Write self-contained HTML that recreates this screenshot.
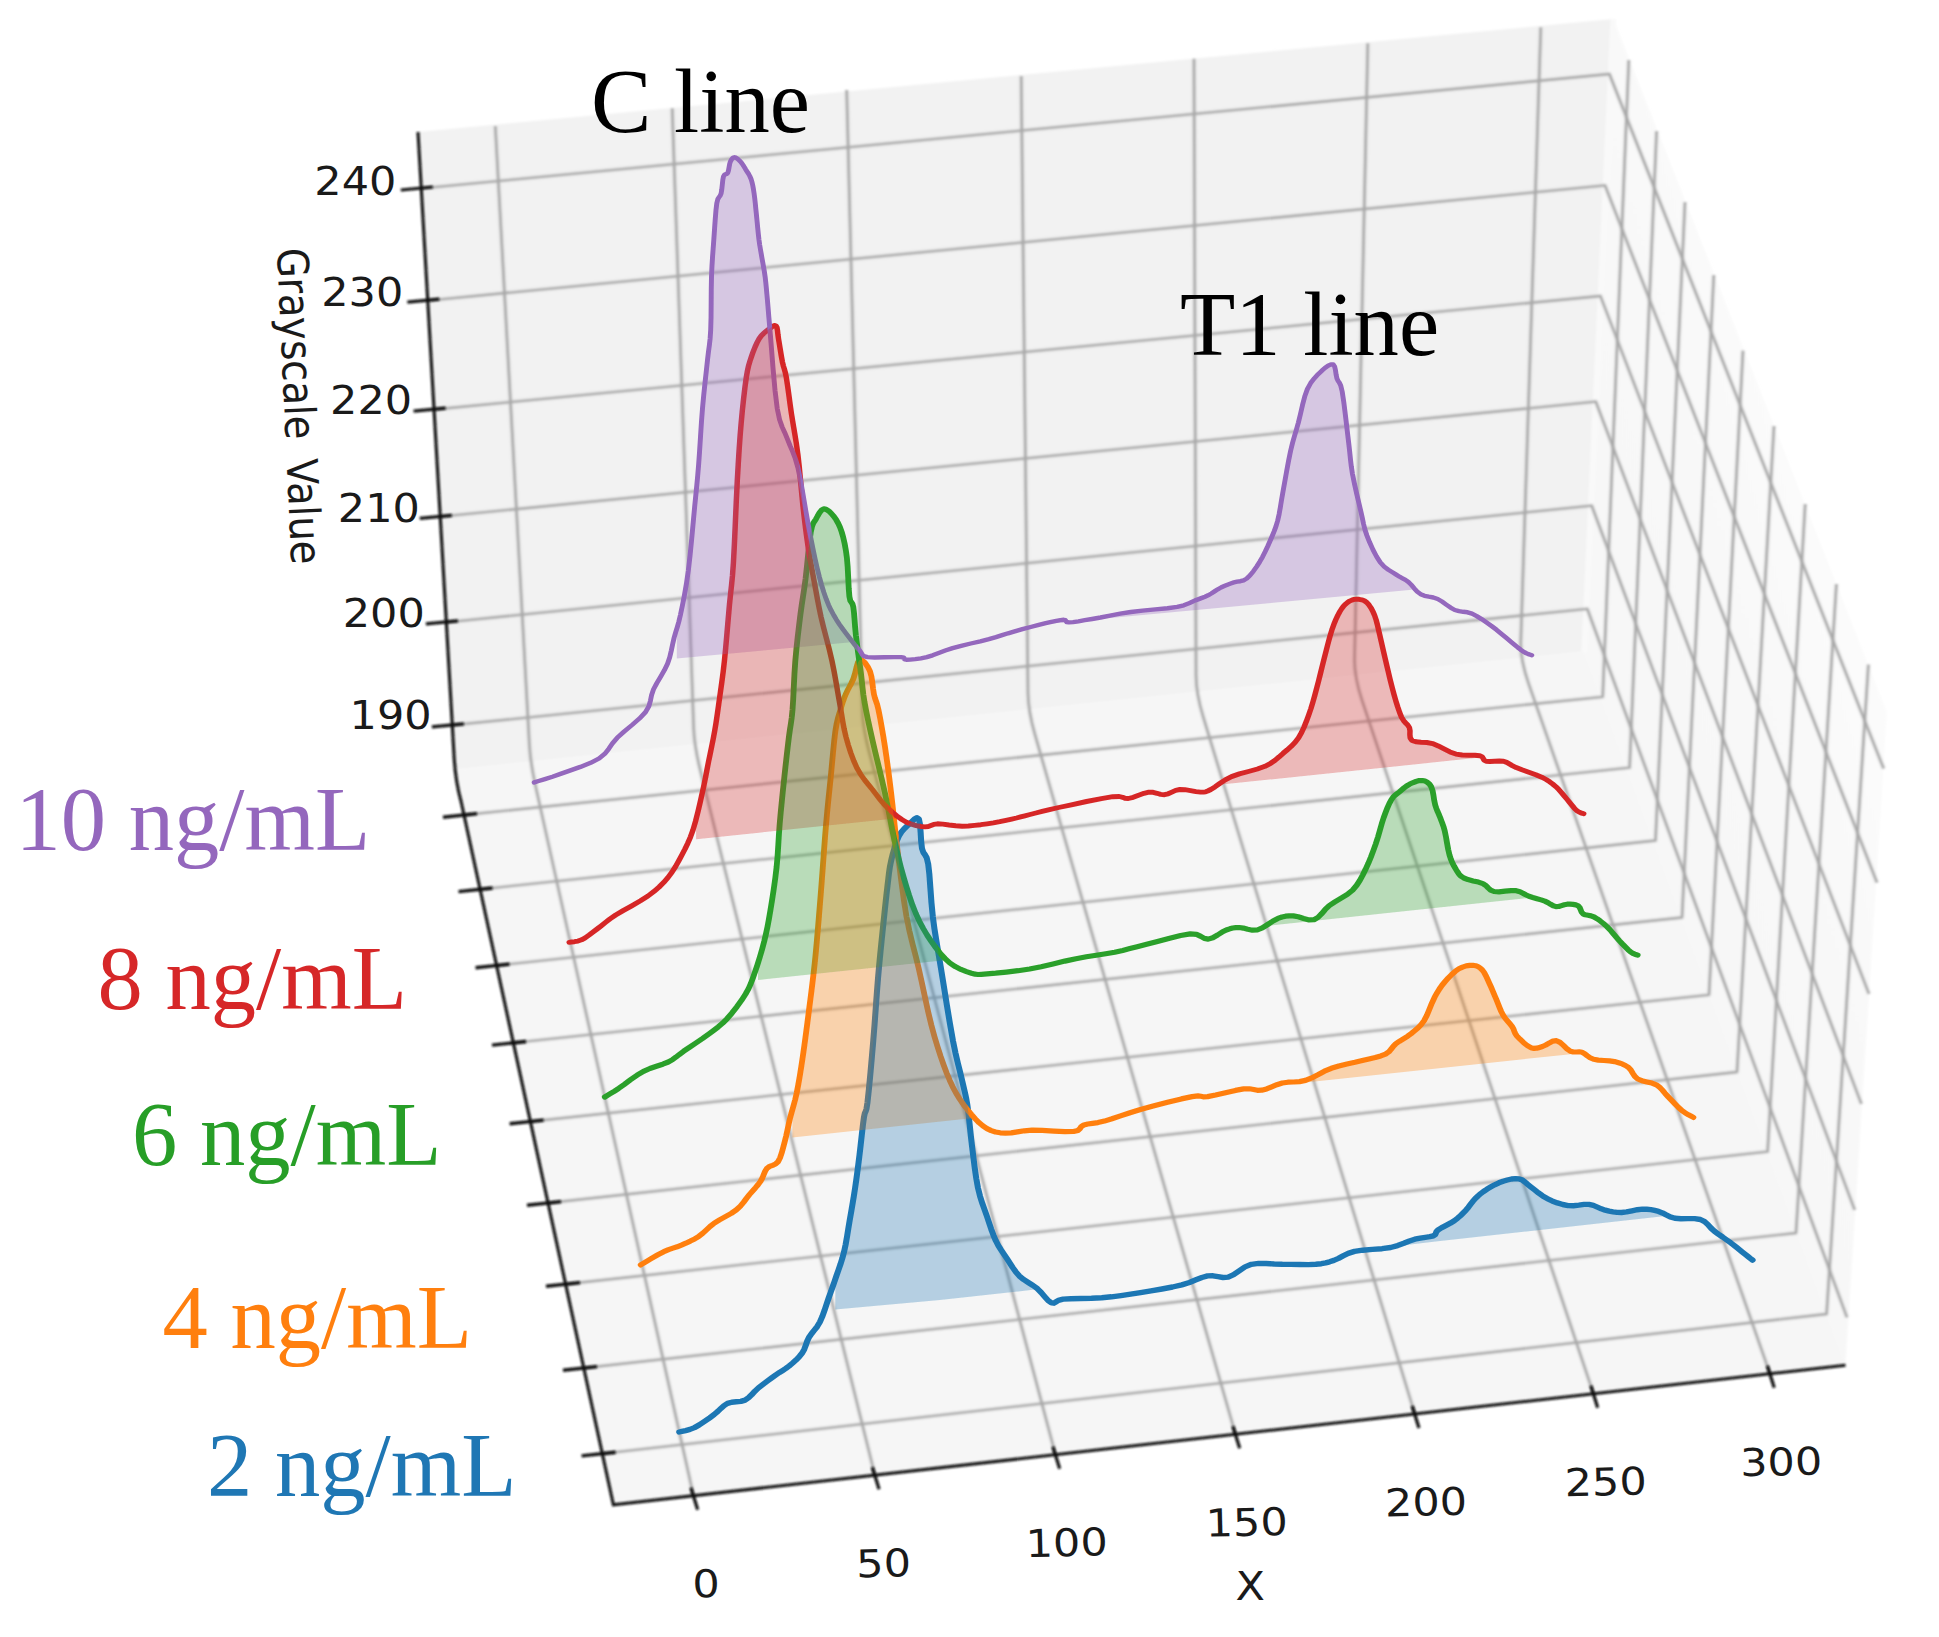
<!DOCTYPE html>
<html><head><meta charset="utf-8"><title>Grayscale profiles</title>
<style>html,body{margin:0;padding:0;background:#fff}svg{display:block}</style></head>
<body>
<svg width="1939" height="1637" viewBox="0 0 1939 1637">
<defs>
<linearGradient id="rw" gradientUnits="userSpaceOnUse" x1="1600" y1="600" x2="1890" y2="520">
<stop offset="0" stop-color="#f7f7f7"/><stop offset="0.55" stop-color="#f9f9f9"/><stop offset="0.85" stop-color="#fcfcfc"/><stop offset="1" stop-color="#ffffff"/>
</linearGradient>
<filter id="soft" x="-5%" y="-5%" width="110%" height="110%"><feGaussianBlur stdDeviation="0.9"/></filter>
<filter id="soft2" x="-5%" y="-5%" width="110%" height="110%"><feGaussianBlur stdDeviation="0.65"/></filter>
</defs>
<rect width="1939" height="1637" fill="#fff"/>
<g filter="url(#soft)">
<polygon points="418.0,132.0 1613.4,19.0 1584.3,652.8 453.0,771.0" fill="#f2f2f2"/>
<polygon points="453.0,771.0 1584.3,652.8 1845.5,1365.2 613.4,1504.8" fill="#f6f6f6"/>
<polygon points="1613.4,19.0 1887.0,712.0 1845.5,1365.2 1584.3,652.8" fill="url(#rw)"/>
<polyline points="1613.4,19.0 1584.3,652.8" stroke="#f9f9f9" stroke-width="6" fill="none"/>
<polyline points="453.0,771.0 1584.3,652.8" stroke="#f7f7f7" stroke-width="3" fill="none"/>
<g transform="scale(1.12,1)" fill="none" stroke="#a0a0a0" stroke-opacity="0.14" stroke-width="5" stroke-linejoin="round">
<path d="M442.23,126.0 L472.68,744.9 Q473.57,762.9 478.34,786.9 L619.20,1495.7"/>
<path d="M600.18,108.3 L619.32,727.8 Q619.87,745.8 625.18,769.8 L781.16,1475.2"/>
<path d="M755.98,90.0 L769.94,710.2 Q770.34,728.2 776.03,752.2 L942.41,1454.7"/>
<path d="M911.79,76.0 L917.84,692.9 Q918.02,710.9 924.16,734.9 L1103.12,1434.3"/>
<path d="M1066.07,58.8 L1067.89,675.4 Q1067.94,693.4 1074.44,717.4 L1263.21,1414.0"/>
<path d="M1221.25,43.2 L1209.43,658.8 Q1209.09,676.8 1216.24,700.8 L1422.77,1393.8"/>
<path d="M1375.71,27.2 L1357.83,641.5 Q1357.31,659.5 1364.80,683.5 L1580.36,1373.8"/>
<path d="M376.16,188.4 L1436.96,74.0 L1681.87,768.7"/>
<path d="M381.87,300.6 L1433.04,185.4 L1675.89,882.7"/>
<path d="M387.50,409.5 L1428.93,296.0 L1668.75,994.0"/>
<path d="M393.04,516.7 L1424.82,401.6 L1661.96,1104.0"/>
<path d="M398.48,622.3 L1421.16,505.7 L1655.98,1210.0"/>
<path d="M403.84,725.2 L1417.23,608.8 L1649.11,1317.5"/>
<path d="M414.29,815.0 L1430.98,696.8 L1454.29,60.0"/>
<path d="M428.12,889.4 L1455.00,767.6 L1479.11,131.0"/>
<path d="M443.30,965.5 L1478.12,840.5 L1504.46,202.0"/>
<path d="M458.04,1042.9 L1501.79,917.5 L1530.18,275.0"/>
<path d="M473.75,1121.5 L1525.89,994.8 L1556.25,350.6"/>
<path d="M489.29,1203.0 L1550.89,1072.0 L1583.93,426.0"/>
<path d="M506.25,1284.0 L1578.21,1151.6 L1611.79,504.0"/>
<path d="M521.43,1368.0 L1603.57,1233.0 L1639.64,584.0"/>
<path d="M538.04,1453.7 L1630.89,1314.0 L1668.21,664.5"/>
</g>
<g transform="scale(1.12,1)" fill="none" stroke="#a9a9a9" stroke-width="2.3" stroke-linecap="butt" stroke-linejoin="round">
<path d="M442.23,126.0 L472.68,744.9 Q473.57,762.9 478.34,786.9 L619.20,1495.7"/>
<path d="M600.18,108.3 L619.32,727.8 Q619.87,745.8 625.18,769.8 L781.16,1475.2"/>
<path d="M755.98,90.0 L769.94,710.2 Q770.34,728.2 776.03,752.2 L942.41,1454.7"/>
<path d="M911.79,76.0 L917.84,692.9 Q918.02,710.9 924.16,734.9 L1103.12,1434.3"/>
<path d="M1066.07,58.8 L1067.89,675.4 Q1067.94,693.4 1074.44,717.4 L1263.21,1414.0"/>
<path d="M1221.25,43.2 L1209.43,658.8 Q1209.09,676.8 1216.24,700.8 L1422.77,1393.8"/>
<path d="M1375.71,27.2 L1357.83,641.5 Q1357.31,659.5 1364.80,683.5 L1580.36,1373.8"/>
<path d="M376.16,188.4 L1436.96,74.0 L1681.87,768.7"/>
<path d="M381.87,300.6 L1433.04,185.4 L1675.89,882.7"/>
<path d="M387.50,409.5 L1428.93,296.0 L1668.75,994.0"/>
<path d="M393.04,516.7 L1424.82,401.6 L1661.96,1104.0"/>
<path d="M398.48,622.3 L1421.16,505.7 L1655.98,1210.0"/>
<path d="M403.84,725.2 L1417.23,608.8 L1649.11,1317.5"/>
<path d="M414.29,815.0 L1430.98,696.8 L1454.29,60.0"/>
<path d="M428.12,889.4 L1455.00,767.6 L1479.11,131.0"/>
<path d="M443.30,965.5 L1478.12,840.5 L1504.46,202.0"/>
<path d="M458.04,1042.9 L1501.79,917.5 L1530.18,275.0"/>
<path d="M473.75,1121.5 L1525.89,994.8 L1556.25,350.6"/>
<path d="M489.29,1203.0 L1550.89,1072.0 L1583.93,426.0"/>
<path d="M506.25,1284.0 L1578.21,1151.6 L1611.79,504.0"/>
<path d="M521.43,1368.0 L1603.57,1233.0 L1639.64,584.0"/>
<path d="M538.04,1453.7 L1630.89,1314.0 L1668.21,664.5"/>
</g>
</g>
<g filter="url(#soft2)">
<g transform="scale(1.12,1)">
<polyline points="606.43,1432.0 608.79,1431.4 612.15,1430.6 616.07,1429.4 620.09,1427.6 624.36,1424.9 629.05,1421.4 633.67,1417.8 637.77,1414.4 641.04,1411.3 643.78,1408.3 646.47,1405.6 649.55,1403.4 653.30,1402.2 657.41,1401.8 661.52,1401.4 665.27,1400.1 668.40,1397.7 671.16,1394.7 673.92,1391.3 677.05,1388.0 680.80,1384.7 684.91,1381.2 689.02,1377.8 692.77,1374.8 695.99,1372.4 698.91,1370.4 701.70,1368.4 704.55,1366.0 707.64,1363.1 710.81,1359.9 713.81,1356.4 716.34,1352.9 718.13,1349.2 719.41,1345.3 720.62,1341.4 722.23,1337.5 724.46,1333.9 727.02,1330.3 729.64,1326.6 732.05,1322.1 734.18,1316.6 736.17,1310.4 738.06,1304.0 739.91,1297.9 741.70,1292.3 743.41,1286.9 745.09,1281.5 746.79,1275.9 748.55,1270.2 750.35,1264.4 752.08,1258.3 753.66,1251.7 755.03,1244.5 756.24,1236.8 757.39,1228.9 758.57,1220.9 759.82,1212.8 761.09,1204.6 762.32,1196.3 763.48,1188.0 764.53,1179.9 765.51,1171.8 766.45,1163.6 767.41,1155.0 768.41,1145.4 769.42,1135.2 770.41,1125.5 771.34,1117.6 772.15,1113.3 772.87,1111.5 773.63,1108.9 774.55,1102.3 775.73,1090.1 777.08,1074.3 778.46,1057.0 779.73,1040.4 780.85,1024.6 781.90,1008.5 782.92,992.9 783.93,978.5 784.94,965.8 785.92,954.3 786.91,943.3 787.95,932.1 789.06,920.0 790.23,907.6 791.37,895.8 792.41,885.7 793.22,878.0 793.87,871.9 794.59,866.6 795.62,860.9 797.02,854.4 798.66,847.8 800.50,841.5 802.50,836.2 804.75,832.1 807.23,828.8 809.76,826.1 812.14,823.8 814.44,821.3 816.72,818.8 818.79,817.7 820.45,819.1 821.46,824.4 822.00,832.5 822.46,841.3 823.21,848.5 824.44,852.5 825.90,854.8 827.40,857.8 828.75,864.0 829.81,874.6 830.71,888.2 831.66,902.8 832.86,916.6 834.30,928.6 835.91,940.0 837.73,952.1 839.82,966.1 842.35,983.7 845.24,1003.9 848.16,1023.7 850.80,1040.4 853.11,1053.1 855.25,1063.2 857.19,1071.9 858.93,1080.0 860.40,1087.1 861.64,1093.0 862.75,1098.8 863.84,1106.0 864.88,1115.0 865.82,1125.0 866.78,1135.5 867.86,1146.0 869.04,1156.7 870.28,1167.7 871.66,1178.4 873.21,1188.0 875.04,1196.2 877.08,1203.4 879.19,1210.0 881.25,1216.5 883.18,1223.0 885.07,1229.3 887.01,1235.2 889.11,1240.7 891.39,1245.6 893.81,1249.9 896.33,1254.1 898.93,1258.3 901.51,1262.8 904.11,1267.4 906.92,1271.8 910.09,1275.9 913.86,1279.4 918.08,1282.5 922.34,1285.5 926.25,1288.7 929.70,1292.6 932.91,1296.8 935.93,1300.6 938.84,1302.9 941.02,1303.2 942.65,1302.0 944.96,1300.3 949.20,1299.1 956.13,1298.7 964.96,1298.5 974.54,1298.3 983.75,1297.8 992.33,1296.8 1000.88,1295.6 1009.50,1294.2 1018.30,1292.6 1027.68,1290.9 1037.46,1289.0 1046.88,1287.0 1055.18,1284.9 1062.02,1282.5 1067.85,1279.8 1073.11,1277.5 1078.21,1275.9 1083.08,1275.8 1087.56,1276.7 1091.95,1277.5 1096.61,1277.1 1101.46,1274.6 1106.39,1270.8 1111.61,1266.9 1117.32,1264.3 1123.68,1263.4 1130.54,1263.5 1137.69,1264.0 1144.91,1264.3 1152.55,1264.4 1160.58,1264.5 1168.26,1264.6 1174.82,1264.3 1179.78,1263.7 1183.62,1262.9 1187.11,1261.8 1190.98,1260.4 1195.10,1258.4 1199.17,1255.9 1203.75,1253.4 1209.37,1251.4 1216.71,1250.2 1225.29,1249.4 1233.97,1248.7 1241.61,1247.5 1247.87,1245.6 1253.39,1243.3 1258.41,1241.0 1263.21,1239.2 1268.01,1238.1 1272.61,1237.3 1276.67,1236.7 1279.82,1235.8 1281.48,1234.6 1282.00,1233.3 1282.46,1231.8 1283.93,1230.0 1286.93,1227.9 1290.81,1225.6 1294.89,1223.2 1298.48,1220.7 1301.41,1218.2 1304.05,1215.6 1306.49,1212.9 1308.84,1210.2 1311.01,1207.3 1312.99,1204.3 1314.97,1201.4 1317.14,1198.6 1319.49,1196.1 1321.93,1193.7 1324.57,1191.5 1327.50,1189.3 1330.85,1187.1 1334.52,1184.8 1338.32,1182.8 1342.05,1181.2 1345.77,1180.0 1349.55,1179.0 1353.19,1178.6 1356.52,1178.9 1359.30,1180.1 1361.69,1182.1 1364.09,1184.5 1366.88,1187.0 1370.12,1189.8 1373.63,1192.9 1377.40,1195.9 1381.43,1198.6 1385.80,1200.9 1390.50,1202.9 1395.33,1204.5 1400.09,1205.6 1404.85,1205.7 1409.68,1205.1 1414.38,1204.4 1418.75,1204.4 1422.66,1205.4 1426.24,1207.1 1429.69,1208.8 1433.21,1210.2 1436.75,1211.2 1440.23,1211.9 1443.84,1212.4 1447.77,1212.5 1452.24,1211.9 1457.10,1210.8 1461.96,1209.7 1466.43,1209.1 1470.34,1209.2 1473.92,1209.6 1477.37,1210.4 1480.89,1211.4 1484.33,1212.9 1487.65,1214.9 1491.23,1216.9 1495.45,1218.3 1500.80,1218.8 1506.96,1218.6 1513.06,1218.6 1518.21,1219.5 1521.99,1221.7 1524.93,1224.6 1527.61,1228.0 1530.62,1231.1 1534.21,1234.1 1538.03,1237.0 1541.79,1240.0 1545.18,1242.7 1548.09,1245.2 1550.69,1247.6 1553.12,1249.8 1555.54,1252.0 1558.15,1254.3 1560.83,1256.6 1563.18,1258.7 1564.82,1260.1" fill="none" stroke="#1f77b4" stroke-width="5.4" stroke-linejoin="round" stroke-linecap="round"/>
<polyline points="572.05,1264.9 575.87,1262.4 581.38,1258.7 587.38,1254.8 592.68,1251.7 596.95,1249.6 600.85,1248.1 604.59,1246.8 608.39,1245.1 612.35,1243.2 616.33,1241.1 620.25,1238.9 624.02,1236.3 627.45,1233.3 630.64,1230.0 633.96,1226.5 637.77,1223.1 642.45,1219.9 647.71,1216.6 652.91,1213.4 657.41,1209.9 660.96,1206.2 663.92,1202.2 666.57,1198.2 669.20,1194.5 671.88,1191.1 674.48,1187.8 676.88,1184.6 679.02,1181.4 680.68,1178.0 681.96,1174.4 683.25,1171.0 684.91,1168.2 687.18,1166.4 689.82,1165.3 692.46,1164.0 694.73,1161.6 696.50,1157.7 697.99,1152.8 699.31,1147.4 700.62,1141.8 701.90,1136.1 703.09,1130.0 704.27,1123.8 705.54,1117.6 706.93,1111.8 708.40,1106.1 709.89,1100.0 711.34,1093.0 712.74,1084.8 714.12,1075.8 715.50,1066.1 716.87,1055.9 718.29,1044.7 719.73,1032.6 721.13,1020.6 722.41,1009.4 723.57,999.3 724.64,989.9 725.62,980.9 726.52,972.3 727.27,964.7 727.90,958.0 728.53,950.7 729.29,941.4 730.22,929.4 731.25,915.5 732.33,900.6 733.39,885.7 734.44,870.3 735.49,854.2 736.54,838.3 737.59,823.8 738.62,811.1 739.64,799.6 740.67,788.6 741.70,777.4 742.73,765.2 743.77,752.6 744.82,740.7 745.89,730.9 746.99,723.7 748.10,718.5 749.22,714.2 750.36,710.0 751.45,705.7 752.53,701.9 753.68,698.2 755.00,694.5 756.59,690.7 758.36,687.0 760.18,683.1 761.87,679.0 763.32,673.7 764.64,667.7 766.02,662.4 767.68,659.7 769.85,660.2 772.37,662.8 774.82,666.9 776.79,671.3 778.06,676.5 778.89,682.7 779.56,689.0 780.36,694.5 781.29,698.4 782.23,701.4 783.24,704.8 784.37,710.0 785.69,717.4 787.14,726.3 788.63,736.1 790.09,746.4 791.49,757.1 792.87,768.4 794.25,780.3 795.62,792.8 796.95,805.8 798.23,819.3 799.59,833.5 801.16,848.5 802.96,865.0 804.92,882.7 807.06,900.4 809.37,916.6 811.94,930.8 814.73,943.7 817.61,956.2 820.45,969.2 823.21,983.3 825.98,997.8 828.75,1012.0 831.52,1024.9 834.29,1036.3 837.06,1046.7 839.83,1056.3 842.59,1065.1 845.27,1073.1 847.91,1080.2 850.63,1086.8 853.57,1093.0 856.83,1099.0 860.31,1104.7 863.88,1109.9 867.41,1114.6 870.81,1118.9 874.16,1122.7 877.60,1125.9 881.25,1128.6 885.02,1130.6 888.88,1132.0 893.06,1132.8 897.77,1133.2 902.91,1132.9 908.42,1131.9 914.56,1130.8 921.61,1130.2 930.56,1130.4 940.96,1131.1 950.90,1131.6 958.48,1131.5 962.51,1130.4 964.24,1128.6 965.38,1126.6 967.68,1125.0 971.31,1124.0 975.44,1123.4 980.28,1122.6 986.07,1121.1 992.83,1118.8 1000.46,1115.9 1008.95,1112.7 1018.30,1109.5 1029.60,1106.1 1042.49,1102.3 1054.80,1098.9 1064.37,1096.6 1069.67,1095.9 1072.16,1096.3 1074.22,1096.8 1078.21,1096.6 1085.36,1095.0 1094.19,1092.7 1103.09,1090.4 1110.45,1088.9 1115.55,1088.8 1119.35,1089.5 1122.72,1090.3 1126.52,1090.2 1130.90,1088.9 1135.42,1086.8 1140.09,1084.7 1144.91,1083.0 1149.87,1082.2 1154.98,1082.0 1160.23,1081.6 1165.62,1080.4 1171.11,1077.9 1176.71,1074.7 1182.52,1071.2 1188.66,1068.3 1195.42,1066.0 1202.65,1064.0 1209.80,1062.3 1216.34,1060.5 1222.28,1058.9 1227.85,1057.5 1232.85,1055.9 1237.05,1054.1 1240.05,1051.8 1242.08,1049.2 1243.89,1046.5 1246.25,1043.8 1249.44,1041.3 1253.03,1038.8 1256.69,1036.3 1260.09,1033.5 1263.17,1030.7 1266.09,1027.9 1268.87,1024.6 1271.52,1020.6 1273.99,1015.3 1276.30,1009.2 1278.54,1002.9 1280.80,997.4 1283.03,992.9 1285.20,989.0 1287.46,985.4 1290.00,981.9 1292.91,978.2 1296.09,974.6 1299.37,971.3 1302.59,968.8 1305.82,967.1 1309.11,965.9 1312.26,965.4 1315.09,965.3 1317.51,965.7 1319.64,966.6 1321.57,968.0 1323.39,969.9 1325.08,972.4 1326.60,975.6 1328.06,979.1 1329.55,982.7 1331.11,986.5 1332.67,990.6 1334.24,994.8 1335.80,998.9 1337.32,1003.1 1338.81,1007.3 1340.35,1011.5 1342.05,1015.2 1344.06,1018.5 1346.29,1021.4 1348.45,1024.2 1350.27,1026.8 1351.41,1029.2 1352.10,1031.4 1352.93,1033.7 1354.46,1036.1 1357.04,1039.1 1360.28,1042.6 1363.72,1045.6 1366.88,1047.7 1369.56,1048.4 1372.05,1048.2 1374.54,1047.4 1377.23,1046.5 1380.21,1045.0 1383.35,1042.9 1386.56,1041.1 1389.73,1040.7 1392.89,1042.4 1396.07,1045.5 1399.19,1048.9 1402.14,1051.2 1404.88,1052.0 1407.45,1052.0 1409.96,1051.8 1412.50,1052.3 1414.89,1053.7 1417.16,1055.7 1419.68,1057.7 1422.86,1059.3 1427.08,1060.1 1432.06,1060.5 1437.10,1060.9 1441.52,1061.6 1445.16,1062.7 1448.37,1063.9 1451.26,1065.5 1453.93,1067.4 1456.10,1070.0 1457.82,1073.2 1459.67,1076.4 1462.23,1079.0 1465.95,1080.7 1470.41,1081.9 1474.93,1083.1 1478.84,1084.8 1481.82,1087.3 1484.28,1090.1 1486.61,1093.3 1489.20,1096.5 1492.20,1100.0 1495.40,1103.7 1498.60,1107.4 1501.61,1110.4 1504.58,1112.8 1507.56,1114.8 1510.15,1116.3 1511.96,1117.4" fill="none" stroke="#ff7f0e" stroke-width="5.2" stroke-linejoin="round" stroke-linecap="round"/>
<polyline points="540.00,1097.0 542.02,1095.6 544.87,1093.7 548.41,1091.3 552.50,1088.3 557.34,1084.5 562.92,1079.8 568.81,1075.2 574.55,1071.3 580.28,1068.5 586.14,1066.3 591.75,1064.2 596.70,1062.0 600.53,1059.6 603.57,1057.1 606.62,1054.4 610.45,1051.2 615.52,1047.4 621.34,1043.0 627.25,1038.5 632.59,1034.2 637.13,1030.4 641.24,1026.9 645.18,1023.2 649.20,1018.7 653.52,1013.1 657.97,1006.7 662.16,1000.2 665.71,994.0 668.37,988.6 670.38,983.5 672.13,978.3 674.02,972.3 676.16,965.2 678.34,957.4 680.44,949.3 682.32,941.4 683.90,933.9 685.26,926.7 686.54,919.0 687.86,910.4 689.31,900.4 690.80,889.5 692.20,878.2 693.39,867.1 694.25,856.3 694.87,845.6 695.44,834.8 696.16,823.8 697.09,812.3 698.13,800.4 699.21,788.6 700.27,777.4 701.32,766.6 702.38,756.0 703.41,746.1 704.37,737.1 705.26,729.9 706.08,724.1 706.86,718.0 707.59,710.0 708.22,699.2 708.76,686.7 709.34,673.6 710.09,661.0 711.08,649.0 712.23,637.0 713.45,625.4 714.64,614.6 715.80,605.1 716.96,596.6 718.12,588.0 719.29,578.5 720.45,566.8 721.61,553.8 722.77,541.5 723.93,532.0 725.02,526.4 726.06,523.3 727.18,521.4 728.48,519.2 730.00,516.0 731.67,512.8 733.49,510.2 735.45,508.9 737.64,509.4 740.05,511.1 742.45,513.7 744.64,516.6 746.58,519.7 748.36,523.2 750.01,527.2 751.52,532.0 752.89,537.4 754.13,543.5 755.22,550.3 756.16,557.9 756.86,567.3 757.35,578.2 757.80,588.5 758.39,596.5 759.20,600.7 760.13,602.3 761.06,603.7 761.87,606.9 762.48,612.5 762.97,619.3 763.49,627.0 764.20,635.2 765.21,644.4 766.42,654.6 767.66,664.7 768.75,673.9 769.54,681.4 770.15,688.0 770.84,694.5 771.87,702.0 773.29,710.5 774.95,719.6 776.86,729.4 779.02,740.2 781.57,752.5 784.48,766.0 787.42,779.7 790.09,792.8 792.36,805.1 794.42,817.0 796.39,828.4 798.39,839.2 800.39,849.1 802.33,858.4 804.35,867.3 806.61,876.4 809.11,885.9 811.79,895.5 814.65,904.9 817.68,913.5 820.88,921.3 824.25,928.4 827.80,935.1 831.52,941.4 835.41,947.5 839.48,953.3 843.72,958.5 848.12,963.0 852.89,966.6 857.94,969.4 862.91,971.6 867.41,973.2 870.69,974.2 873.16,974.5 876.22,974.3 881.25,973.9 888.98,973.2 898.54,972.1 908.97,970.7 919.29,969.0 929.57,966.7 940.22,964.0 950.76,961.1 960.71,958.7 970.00,956.8 978.85,955.3 987.27,953.8 995.27,952.2 1002.39,950.4 1008.78,948.6 1015.34,946.7 1022.95,944.5 1032.59,941.7 1043.54,938.4 1054.13,935.5 1062.68,933.9 1068.36,934.4 1072.19,936.4 1075.28,938.4 1078.75,939.1 1082.89,937.7 1087.11,935.0 1091.19,932.1 1094.91,930.0 1098.01,928.8 1100.68,928.0 1103.34,927.6 1106.43,927.5 1110.07,928.1 1114.03,929.3 1118.21,930.2 1122.50,930.0 1127.06,927.9 1131.89,924.5 1136.64,921.0 1140.98,918.4 1144.64,917.0 1147.86,916.2 1151.07,915.9 1154.73,915.9 1159.13,916.8 1163.97,918.5 1168.82,919.9 1173.21,919.7 1176.82,917.4 1179.95,913.8 1183.15,909.6 1186.96,905.5 1191.87,901.9 1197.46,898.2 1202.98,894.4 1207.68,890.1 1211.26,885.4 1214.16,880.4 1216.70,875.1 1219.20,869.4 1221.71,863.3 1224.08,856.9 1226.31,850.2 1228.39,843.7 1230.29,837.1 1232.02,830.3 1233.67,823.8 1235.36,817.9 1237.08,812.6 1238.79,807.7 1240.51,803.4 1242.23,799.8 1243.91,797.1 1245.57,795.3 1247.30,793.8 1249.20,792.1 1251.28,790.1 1253.51,788.0 1255.88,786.0 1258.39,784.3 1261.19,782.8 1264.22,781.5 1267.22,780.6 1269.91,780.5 1272.27,781.1 1274.43,782.3 1276.34,784.2 1277.95,786.9 1279.11,790.7 1279.91,795.5 1280.59,800.6 1281.43,805.0 1282.50,808.6 1283.67,811.8 1284.86,814.8 1285.98,817.9 1287.02,821.0 1288.01,823.9 1289.00,827.1 1290.00,831.2 1291.00,836.6 1291.99,843.0 1293.04,849.5 1294.20,855.0 1295.49,859.4 1296.88,863.1 1298.35,866.3 1299.91,869.3 1301.35,871.9 1302.73,874.2 1304.47,876.2 1306.96,878.0 1310.69,879.6 1315.31,880.9 1320.02,882.1 1324.02,883.6 1326.77,885.6 1328.80,888.0 1330.92,890.1 1333.93,891.5 1338.39,891.8 1343.75,891.2 1349.16,890.7 1353.75,890.7 1357.11,891.7 1359.77,893.2 1362.25,894.8 1365.09,896.3 1368.54,897.5 1372.28,898.7 1375.97,899.9 1379.29,901.1 1382.06,902.6 1384.50,904.3 1386.81,905.8 1389.20,906.6 1391.69,906.5 1394.20,905.6 1396.70,904.7 1399.20,904.2 1401.81,904.2 1404.51,904.4 1407.03,904.9 1409.11,905.8 1410.44,907.5 1411.25,909.7 1412.06,912.0 1413.39,913.8 1415.44,914.8 1417.91,915.3 1420.59,915.9 1423.30,917.0 1426.04,918.8 1428.88,921.1 1431.77,923.6 1434.64,926.5 1437.51,929.8 1440.40,933.6 1443.25,937.3 1445.98,940.8 1448.64,944.0 1451.25,947.0 1453.70,949.8 1455.89,951.9 1457.88,953.3 1459.68,954.2 1461.18,954.7 1462.23,955.1" fill="none" stroke="#2ca02c" stroke-width="5.2" stroke-linejoin="round" stroke-linecap="round"/>
<polyline points="508.21,942.3 510.14,942.0 512.89,941.7 516.06,941.1 519.29,939.8 522.49,937.8 525.86,935.1 529.41,932.1 533.12,929.0 536.80,925.8 540.49,922.5 544.66,918.9 549.73,915.0 556.34,910.6 564.07,905.8 571.85,900.8 578.57,896.0 583.93,891.4 588.52,887.0 592.60,882.4 596.43,877.5 599.99,872.1 603.18,866.5 606.12,860.6 608.93,854.7 611.61,849.0 614.10,843.2 616.46,837.1 618.75,830.0 621.00,821.4 623.17,811.8 625.21,801.9 627.05,792.8 628.63,784.6 629.99,777.0 631.27,769.5 632.59,761.9 634.01,754.2 635.45,746.4 636.84,738.6 638.12,730.9 639.24,723.4 640.24,715.9 641.21,708.3 642.23,700.0 643.34,691.2 644.48,682.1 645.64,672.2 646.79,661.0 647.95,647.7 649.13,632.8 650.28,617.8 651.34,604.3 652.29,593.9 653.15,585.3 653.98,575.9 654.82,563.0 655.69,544.7 656.57,522.7 657.44,500.3 658.30,480.5 659.13,464.3 659.93,449.9 660.76,436.6 661.70,423.8 662.77,410.9 663.95,398.4 665.16,387.0 666.34,377.4 667.43,370.4 668.47,365.3 669.59,361.1 670.89,356.7 672.44,351.8 674.16,347.0 675.98,342.5 677.86,338.7 679.82,335.7 681.88,333.3 683.93,331.4 685.89,329.7 687.82,328.0 689.74,326.4 691.47,325.5 692.86,325.8 693.72,327.6 694.19,330.6 694.55,334.4 695.09,338.7 695.87,344.0 696.75,350.1 697.67,356.4 698.57,361.9 699.42,365.8 700.25,368.8 701.11,372.3 702.05,377.4 703.09,384.9 704.19,393.8 705.36,403.6 706.61,413.5 708.00,423.2 709.51,433.1 711.02,443.5 712.41,454.7 713.63,467.1 714.76,480.5 715.85,493.9 716.96,506.3 718.09,517.5 719.21,527.9 720.37,537.8 721.61,547.5 722.96,556.9 724.39,566.0 725.86,574.9 727.32,583.6 728.67,591.9 729.97,599.9 731.40,608.1 733.12,617.2 735.34,627.4 737.91,638.5 740.51,649.8 742.86,661.0 744.87,672.3 746.70,683.7 748.40,694.8 750.00,705.0 751.36,713.9 752.51,721.8 753.75,729.3 755.36,737.0 757.40,745.1 759.74,753.2 762.34,761.0 765.18,768.1 768.36,774.2 771.85,779.7 775.46,784.7 779.02,789.7 782.41,794.7 785.77,799.5 789.21,804.1 792.86,808.3 796.80,812.3 800.94,816.1 805.18,819.5 809.37,822.2 813.65,824.2 818.02,825.6 822.22,826.5 825.98,826.9 828.88,826.5 831.18,825.5 833.64,824.4 837.05,823.8 841.79,824.1 847.39,825.0 853.33,825.8 859.11,826.2 864.64,826.0 870.18,825.4 875.72,824.7 881.25,823.8 886.90,822.8 892.64,821.6 898.19,820.3 903.30,819.1 907.57,818.0 911.25,816.9 915.04,815.8 919.64,814.5 924.86,813.0 930.46,811.4 937.05,809.6 945.27,807.5 956.56,804.8 970.16,801.5 983.39,798.6 993.57,796.7 999.35,796.5 1002.36,797.3 1004.44,798.3 1007.41,798.5 1011.80,797.3 1016.61,795.2 1021.42,793.3 1025.80,792.1 1029.58,792.3 1033.01,793.3 1036.29,794.4 1039.64,794.7 1043.00,793.8 1046.28,792.1 1049.70,790.4 1053.48,789.5 1057.98,789.7 1062.97,790.6 1067.82,791.6 1071.88,792.1 1074.60,792.1 1076.47,791.8 1078.33,791.0 1081.07,789.5 1084.77,786.9 1089.02,783.5 1093.91,779.9 1099.55,776.6 1106.55,773.9 1114.66,771.5 1122.69,769.0 1129.46,766.3 1134.51,763.3 1138.50,760.2 1142.00,756.9 1145.54,753.4 1149.26,749.9 1152.89,746.3 1156.29,742.4 1159.38,737.9 1162.05,732.7 1164.41,726.9 1166.54,720.9 1168.57,714.7 1170.45,708.6 1172.15,702.3 1173.78,695.8 1175.45,688.9 1177.18,681.5 1178.93,673.6 1180.67,665.7 1182.41,658.0 1184.13,650.5 1185.85,643.0 1187.56,635.9 1189.29,629.6 1191.02,624.2 1192.77,619.4 1194.51,615.2 1196.25,611.6 1197.95,608.6 1199.62,606.1 1201.33,604.2 1203.12,602.5 1205.03,601.1 1207.00,600.1 1209.04,599.4 1211.16,599.2 1213.43,599.3 1215.83,599.8 1218.19,600.8 1220.36,602.5 1222.31,604.9 1224.13,607.9 1225.80,611.5 1227.32,615.4 1228.60,619.6 1229.67,624.1 1230.71,629.2 1231.88,634.8 1233.21,641.2 1234.63,648.2 1236.12,655.6 1237.68,663.1 1239.32,670.8 1241.05,678.9 1242.81,686.8 1244.55,694.1 1246.27,700.8 1247.99,707.0 1249.70,712.6 1251.43,717.3 1253.27,720.7 1255.20,723.1 1256.98,725.1 1258.39,727.6 1258.92,730.9 1258.84,734.5 1259.11,737.9 1260.71,740.5 1264.13,741.8 1268.76,742.2 1273.96,742.5 1279.11,743.6 1284.13,745.9 1289.33,748.9 1294.62,751.9 1299.91,754.1 1305.56,755.0 1311.48,755.2 1316.93,755.2 1321.16,755.7 1323.45,756.9 1324.38,758.6 1325.12,760.2 1326.87,761.3 1330.17,761.5 1334.29,761.3 1338.59,761.0 1342.41,761.3 1345.27,762.4 1347.63,763.9 1350.21,765.6 1353.75,767.6 1358.87,769.8 1365.05,772.2 1371.27,774.7 1376.52,777.2 1380.46,779.5 1383.66,781.8 1386.45,784.1 1389.20,786.7 1391.92,789.7 1394.46,793.0 1396.87,796.3 1399.20,799.4 1401.47,802.5 1403.67,805.5 1405.74,808.3 1407.68,810.5 1409.56,811.9 1411.38,812.8 1412.93,813.3 1414.02,813.7" fill="none" stroke="#d62728" stroke-width="4.9" stroke-linejoin="round" stroke-linecap="round"/>
<polyline points="476.96,782.4 480.92,781.0 486.55,779.1 493.25,776.7 500.45,773.9 508.74,770.6 518.19,766.9 527.40,762.8 535.00,758.4 540.10,753.7 543.61,748.7 546.83,743.4 551.07,737.8 557.19,731.6 564.31,725.0 571.16,718.3 576.43,712.0 579.35,706.2 580.75,700.7 581.76,695.2 583.48,689.4 586.40,683.2 589.85,676.7 593.27,670.1 596.07,663.6 598.00,657.1 599.40,650.5 600.59,644.1 601.88,637.8 603.28,632.3 604.66,627.3 606.07,621.8 607.59,614.6 609.27,605.6 611.07,595.3 612.87,583.7 614.55,570.8 616.12,555.6 617.63,538.4 619.03,521.3 620.27,506.3 621.30,494.7 622.15,485.2 622.93,475.9 623.75,465.0 624.60,451.7 625.43,437.1 626.29,422.2 627.23,408.3 628.32,395.2 629.50,382.5 630.67,370.6 631.70,360.0 632.57,351.8 633.36,345.3 634.03,338.7 634.55,330.0 634.85,317.9 634.96,303.7 635.05,289.3 635.27,276.6 635.67,266.3 636.17,257.3 636.73,248.8 637.32,240.0 637.92,230.2 638.55,220.0 639.23,210.6 640.00,203.3 640.92,199.1 641.95,197.2 642.97,195.8 643.84,193.5 644.45,189.4 644.91,184.6 645.37,179.9 645.98,176.4 646.86,174.7 647.90,174.2 648.93,173.9 649.82,172.8 650.46,170.4 650.94,167.4 651.43,164.3 652.05,161.8 652.84,160.0 653.73,158.6 654.71,157.6 655.80,157.3 657.07,157.7 658.49,158.8 659.92,160.3 661.25,161.8 662.41,163.4 663.47,165.1 664.52,167.0 665.62,169.1 666.87,171.3 668.18,173.5 669.45,176.1 670.54,178.9 671.39,182.0 672.09,185.4 672.71,189.2 673.30,193.5 673.88,198.4 674.41,203.9 674.92,209.7 675.45,215.5 675.99,221.6 676.53,228.0 677.09,234.3 677.68,240.0 678.31,245.0 678.98,249.5 679.67,253.9 680.36,258.3 681.06,262.7 681.77,267.1 682.47,271.6 683.12,276.6 683.71,282.2 684.24,288.3 684.75,294.6 685.27,301.0 685.68,306.3 686.02,311.0 686.49,317.4 687.32,328.0 688.59,345.5 690.18,367.9 691.99,390.4 693.93,408.3 696.04,419.6 698.36,427.0 700.76,432.8 703.12,439.2 705.44,445.8 707.77,451.8 710.09,458.6 712.41,467.6 714.74,480.1 717.09,495.0 719.39,510.4 721.61,524.3 723.70,536.5 725.70,547.9 727.66,558.4 729.64,568.2 731.62,577.1 733.59,585.1 735.59,592.4 737.68,599.1 739.84,605.1 742.06,610.3 744.39,615.1 746.87,619.8 749.64,624.6 752.63,629.3 755.62,633.7 758.39,637.8 760.93,641.5 763.33,645.0 765.58,648.1 767.68,650.7 769.03,652.9 769.83,654.7 771.27,656.1 774.55,657.1 781.00,657.5 789.65,657.3 798.22,657.1 804.46,657.1 807.08,657.7 807.51,658.6 807.57,659.4 809.11,659.7 812.63,659.6 817.15,659.1 822.25,658.3 827.50,657.1 832.71,655.3 838.14,653.0 844.01,650.5 850.54,648.1 858.20,645.8 866.74,643.5 875.28,641.3 882.95,639.1 889.26,637.1 894.76,635.2 900.12,633.3 905.98,631.4 912.85,629.2 920.26,627.0 927.45,624.8 933.66,623.1 938.76,621.8 943.14,620.8 946.79,620.1 949.73,619.8 951.32,620.2 951.76,621.1 952.35,622.0 954.38,622.4 958.10,622.1 962.86,621.3 968.56,620.2 975.09,619.0 982.59,617.5 991.07,615.6 1000.20,613.7 1009.64,612.0 1020.11,610.6 1031.51,609.4 1042.34,608.2 1051.07,606.9 1056.98,605.3 1060.98,603.6 1064.04,602.0 1067.14,600.4 1070.34,599.1 1073.19,597.9 1075.89,596.7 1078.66,595.3 1081.54,593.5 1084.42,591.4 1087.30,589.3 1090.18,587.5 1093.06,586.0 1095.94,584.7 1098.82,583.5 1101.70,582.4 1104.58,581.6 1107.46,581.2 1110.33,580.3 1113.21,578.5 1116.15,575.3 1119.12,571.2 1122.02,566.6 1124.73,561.8 1127.25,556.9 1129.62,551.7 1131.85,546.4 1133.93,541.1 1135.86,536.1 1137.65,531.3 1139.30,526.2 1140.80,520.5 1142.07,514.2 1143.12,507.6 1144.18,500.3 1145.45,492.1 1147.01,482.4 1148.74,471.5 1150.54,460.6 1152.32,450.9 1154.03,443.0 1155.73,436.2 1157.47,429.7 1159.29,422.5 1161.11,414.1 1162.95,405.1 1164.96,396.4 1167.32,389.0 1170.22,383.1 1173.52,378.3 1176.88,374.2 1180.00,370.9 1182.92,368.0 1185.76,365.7 1188.31,364.4 1190.36,364.5 1191.67,366.6 1192.41,370.4 1192.98,374.8 1193.75,378.7 1194.80,381.1 1195.92,382.8 1197.12,385.7 1198.39,391.6 1199.82,402.2 1201.37,416.2 1202.89,430.8 1204.20,443.1 1205.12,452.2 1205.79,459.5 1206.52,466.4 1207.59,474.1 1209.21,483.2 1211.17,493.0 1213.19,502.6 1215.00,511.1 1216.35,518.0 1217.44,523.9 1218.67,529.5 1220.45,535.5 1222.93,542.4 1225.88,549.7 1229.11,556.6 1232.41,562.4 1235.88,566.6 1239.58,569.7 1243.24,572.2 1246.61,574.6 1249.56,576.7 1252.26,578.3 1254.85,579.9 1257.50,582.0 1260.12,584.9 1262.67,588.3 1265.36,591.6 1268.39,594.2 1271.90,595.8 1275.75,596.7 1279.74,597.5 1283.66,599.0 1287.48,601.5 1291.29,604.6 1295.11,607.6 1298.93,610.0 1302.71,611.2 1306.47,611.8 1310.30,612.3 1314.29,613.7 1318.49,616.1 1322.86,619.1 1327.30,622.5 1331.70,626.0 1336.20,629.8 1340.80,634.1 1345.21,638.2 1349.11,641.8 1352.38,644.8 1355.21,647.5 1357.73,649.7 1360.09,651.6 1362.40,653.0 1364.57,654.1 1366.39,654.8 1367.68,655.3" fill="none" stroke="#9467bd" stroke-width="4.4" stroke-linejoin="round" stroke-linecap="round"/>
</g>
<clipPath id="c_purple"><polygon points="676.8,658.6 1420.0,589.0 1581.8,573.8 1581.8,-50 676.8,-50"/></clipPath>
<polygon clip-path="url(#c_purple)" points="534.2,782.4 538.6,781.0 544.9,779.1 552.4,776.7 560.5,773.9 569.8,770.6 580.4,766.9 590.7,762.8 599.2,758.4 604.9,753.7 608.8,748.7 612.5,743.4 617.2,737.8 624.0,731.6 632.0,725.0 639.7,718.3 645.6,712.0 648.9,706.2 650.4,700.7 651.6,695.2 653.5,689.4 656.8,683.2 660.6,676.7 664.5,670.1 667.6,663.6 669.8,657.1 671.3,650.5 672.7,644.1 674.1,637.8 675.7,632.3 677.2,627.3 678.8,621.8 680.5,614.6 682.4,605.6 684.4,595.3 686.4,583.7 688.3,570.8 690.1,555.6 691.7,538.4 693.3,521.3 694.7,506.3 695.9,494.7 696.8,485.2 697.7,475.9 698.6,465.0 699.5,451.7 700.5,437.1 701.4,422.2 702.5,408.3 703.7,395.2 705.0,382.5 706.4,370.6 707.5,360.0 708.5,351.8 709.4,345.3 710.1,338.7 710.7,330.0 711.0,317.9 711.2,303.7 711.3,289.3 711.5,276.6 712.0,266.3 712.5,257.3 713.1,248.8 713.8,240.0 714.5,230.2 715.2,220.0 715.9,210.6 716.8,203.3 717.8,199.1 719.0,197.2 720.1,195.8 721.1,193.5 721.8,189.4 722.3,184.6 722.8,179.9 723.5,176.4 724.5,174.7 725.6,174.2 726.8,173.9 727.8,172.8 728.5,170.4 729.1,167.4 729.6,164.3 730.3,161.8 731.2,160.0 732.2,158.6 733.3,157.6 734.5,157.3 735.9,157.7 737.5,158.8 739.1,160.3 740.6,161.8 741.9,163.4 743.1,165.1 744.3,167.0 745.5,169.1 746.9,171.3 748.4,173.5 749.8,176.1 751.0,178.9 752.0,182.0 752.7,185.4 753.4,189.2 754.1,193.5 754.7,198.4 755.3,203.9 755.9,209.7 756.5,215.5 757.1,221.6 757.7,228.0 758.3,234.3 759.0,240.0 759.7,245.0 760.5,249.5 761.2,253.9 762.0,258.3 762.8,262.7 763.6,267.1 764.4,271.6 765.1,276.6 765.8,282.2 766.4,288.3 766.9,294.6 767.5,301.0 768.0,306.3 768.3,311.0 768.9,317.4 769.8,328.0 771.2,345.5 773.0,367.9 775.0,390.4 777.2,408.3 779.6,419.6 782.2,427.0 784.9,432.8 787.5,439.2 790.1,445.8 792.7,451.8 795.3,458.6 797.9,467.6 800.5,480.1 803.1,495.0 805.7,510.4 808.2,524.3 810.5,536.5 812.8,547.9 815.0,558.4 817.2,568.2 819.4,577.1 821.6,585.1 823.9,592.4 826.2,599.1 828.6,605.1 831.1,610.3 833.7,615.1 836.5,619.8 839.6,624.6 842.9,629.3 846.3,633.7 849.4,637.8 852.2,641.5 854.9,645.0 857.4,648.1 859.8,650.7 861.3,652.9 862.2,654.7 863.8,656.1 867.5,657.1 874.7,657.5 884.4,657.3 894.0,657.1 901.0,657.1 903.9,657.7 904.4,658.6 904.5,659.4 906.2,659.7 910.1,659.6 915.2,659.1 920.9,658.3 926.8,657.1 932.6,655.3 938.7,653.0 945.3,650.5 952.6,648.1 961.2,645.8 970.8,643.5 980.3,641.3 988.9,639.1 996.0,637.1 1002.1,635.2 1008.1,633.3 1014.7,631.4 1022.4,629.2 1030.7,627.0 1038.7,624.8 1045.7,623.1 1051.4,621.8 1056.3,620.8 1060.4,620.1 1063.7,619.8 1065.5,620.2 1066.0,621.1 1066.6,622.0 1068.9,622.4 1073.1,622.1 1078.4,621.3 1084.8,620.2 1092.1,619.0 1100.5,617.5 1110.0,615.6 1120.2,613.7 1130.8,612.0 1142.5,610.6 1155.3,609.4 1167.4,608.2 1177.2,606.9 1183.8,605.3 1188.3,603.6 1191.7,602.0 1195.2,600.4 1198.8,599.1 1202.0,597.9 1205.0,596.7 1208.1,595.3 1211.3,593.5 1214.5,591.4 1217.8,589.3 1221.0,587.5 1224.2,586.0 1227.5,584.7 1230.7,583.5 1233.9,582.4 1237.1,581.6 1240.4,581.2 1243.6,580.3 1246.8,578.5 1250.1,575.3 1253.4,571.2 1256.7,566.6 1259.7,561.8 1262.5,556.9 1265.2,551.7 1267.7,546.4 1270.0,541.1 1272.2,536.1 1274.2,531.3 1276.0,526.2 1277.7,520.5 1279.1,514.2 1280.3,507.6 1281.5,500.3 1282.9,492.1 1284.6,482.4 1286.6,471.5 1288.6,460.6 1290.6,450.9 1292.5,443.0 1294.4,436.2 1296.4,429.7 1298.4,422.5 1300.4,414.1 1302.5,405.1 1304.8,396.4 1307.4,389.0 1310.6,383.1 1314.3,378.3 1318.1,374.2 1321.6,370.9 1324.9,368.0 1328.0,365.7 1330.9,364.4 1333.2,364.5 1334.7,366.6 1335.5,370.4 1336.1,374.8 1337.0,378.7 1338.2,381.1 1339.4,382.8 1340.8,385.7 1342.2,391.6 1343.8,402.2 1345.5,416.2 1347.2,430.8 1348.7,443.1 1349.7,452.2 1350.5,459.5 1351.3,466.4 1352.5,474.1 1354.3,483.2 1356.5,493.0 1358.8,502.6 1360.8,511.1 1362.3,518.0 1363.5,523.9 1364.9,529.5 1366.9,535.5 1369.7,542.4 1373.0,549.7 1376.6,556.6 1380.3,562.4 1384.2,566.6 1388.3,569.7 1392.4,572.2 1396.2,574.6 1399.5,576.7 1402.5,578.3 1405.4,579.9 1408.4,582.0 1411.3,584.9 1414.2,588.3 1417.2,591.6 1420.6,594.2 1424.5,595.8 1428.8,596.7 1433.3,597.5 1437.7,599.0 1442.0,601.5 1446.2,604.6 1450.5,607.6 1454.8,610.0 1459.0,611.2 1463.2,611.8 1467.5,612.3 1472.0,613.7 1476.7,616.1 1481.6,619.1 1486.6,622.5 1491.5,626.0 1496.5,629.8 1501.7,634.1 1506.6,638.2 1511.0,641.8 1514.7,644.8 1517.8,647.5 1520.7,649.7 1523.3,651.6 1525.9,653.0 1528.3,654.1 1530.4,654.8 1531.8,655.3 1531.8,1700 534.2,1700" fill="#9467bd" fill-opacity="0.3"/>
<clipPath id="c_red"><polygon points="696.1,839.2 1458.4,759.8 1633.7,741.5 1633.7,-50 696.1,-50"/></clipPath>
<polygon clip-path="url(#c_red)" points="569.2,942.3 571.4,942.0 574.4,941.7 578.0,941.1 581.6,939.8 585.2,937.8 589.0,935.1 592.9,932.1 597.1,929.0 601.2,925.8 605.4,922.5 610.0,918.9 615.7,915.0 623.1,910.6 631.8,905.8 640.5,900.8 648.0,896.0 654.0,891.4 659.1,887.0 663.7,882.4 668.0,877.5 672.0,872.1 675.6,866.5 678.9,860.6 682.0,854.7 685.0,849.0 687.8,843.2 690.4,837.1 693.0,830.0 695.5,821.4 698.0,811.8 700.2,801.9 702.3,792.8 704.1,784.6 705.6,777.0 707.0,769.5 708.5,761.9 710.1,754.2 711.7,746.4 713.3,738.6 714.7,730.9 716.0,723.4 717.1,715.9 718.2,708.3 719.3,700.0 720.5,691.2 721.8,682.1 723.1,672.2 724.4,661.0 725.7,647.7 727.0,632.8 728.3,617.8 729.5,604.3 730.6,593.9 731.5,585.3 732.5,575.9 733.4,563.0 734.4,544.7 735.4,522.7 736.3,500.3 737.3,480.5 738.2,464.3 739.1,449.9 740.1,436.6 741.1,423.8 742.3,410.9 743.6,398.4 745.0,387.0 746.3,377.4 747.5,370.4 748.7,365.3 749.9,361.1 751.4,356.7 753.1,351.8 755.1,347.0 757.1,342.5 759.2,338.7 761.4,335.7 763.7,333.3 766.0,331.4 768.2,329.7 770.4,328.0 772.5,326.4 774.5,325.5 776.0,325.8 777.0,327.6 777.5,330.6 777.9,334.4 778.5,338.7 779.4,344.0 780.4,350.1 781.4,356.4 782.4,361.9 783.3,365.8 784.3,368.8 785.2,372.3 786.3,377.4 787.5,384.9 788.7,393.8 790.0,403.6 791.4,413.5 793.0,423.2 794.6,433.1 796.3,443.5 797.9,454.7 799.3,467.1 800.5,480.5 801.8,493.9 803.0,506.3 804.3,517.5 805.5,527.9 806.8,537.8 808.2,547.5 809.7,556.9 811.3,566.0 813.0,574.9 814.6,583.6 816.1,591.9 817.6,599.9 819.2,608.1 821.1,617.2 823.6,627.4 826.5,638.5 829.4,649.8 832.0,661.0 834.3,672.3 836.3,683.7 838.2,694.8 840.0,705.0 841.5,713.9 842.8,721.8 844.2,729.3 846.0,737.0 848.3,745.1 850.9,753.2 853.8,761.0 857.0,768.1 860.6,774.2 864.5,779.7 868.5,784.7 872.5,789.7 876.3,794.7 880.1,799.5 883.9,804.1 888.0,808.3 892.4,812.3 897.1,816.1 901.8,819.5 906.5,822.2 911.3,824.2 916.2,825.6 920.9,826.5 925.1,826.9 928.3,826.5 930.9,825.5 933.7,824.4 937.5,823.8 942.8,824.1 949.1,825.0 955.7,825.8 962.2,826.2 968.4,826.0 974.6,825.4 980.8,824.7 987.0,823.8 993.3,822.8 999.8,821.6 1006.0,820.3 1011.7,819.1 1016.5,818.0 1020.6,816.9 1024.8,815.8 1030.0,814.5 1035.8,813.0 1042.1,811.4 1049.5,809.6 1058.7,807.5 1071.3,804.8 1086.6,801.5 1101.4,798.6 1112.8,796.7 1119.3,796.5 1122.6,797.3 1125.0,798.3 1128.3,798.5 1133.2,797.3 1138.6,795.2 1144.0,793.3 1148.9,792.1 1153.1,792.3 1157.0,793.3 1160.6,794.4 1164.4,794.7 1168.2,793.8 1171.8,792.1 1175.7,790.4 1179.9,789.5 1184.9,789.7 1190.5,790.6 1196.0,791.6 1200.5,792.1 1203.6,792.1 1205.6,791.8 1207.7,791.0 1210.8,789.5 1214.9,786.9 1219.7,783.5 1225.2,779.9 1231.5,776.6 1239.3,773.9 1248.4,771.5 1257.4,769.0 1265.0,766.3 1270.6,763.3 1275.1,760.2 1279.0,756.9 1283.0,753.4 1287.2,749.9 1291.2,746.3 1295.0,742.4 1298.5,737.9 1301.5,732.7 1304.1,726.9 1306.5,720.9 1308.8,714.7 1310.9,708.6 1312.8,702.3 1314.6,695.8 1316.5,688.9 1318.4,681.5 1320.4,673.6 1322.4,665.7 1324.3,658.0 1326.2,650.5 1328.2,643.0 1330.1,635.9 1332.0,629.6 1333.9,624.2 1335.9,619.4 1337.9,615.2 1339.8,611.6 1341.7,608.6 1343.6,606.1 1345.5,604.2 1347.5,602.5 1349.6,601.1 1351.8,600.1 1354.1,599.4 1356.5,599.2 1359.0,599.3 1361.7,599.8 1364.4,600.8 1366.8,602.5 1369.0,604.9 1371.0,607.9 1372.9,611.5 1374.6,615.4 1376.0,619.6 1377.2,624.1 1378.4,629.2 1379.7,634.8 1381.2,641.2 1382.8,648.2 1384.5,655.6 1386.2,663.1 1388.0,670.8 1390.0,678.9 1391.9,686.8 1393.9,694.1 1395.8,700.8 1397.7,707.0 1399.7,712.6 1401.6,717.3 1403.7,720.7 1405.8,723.1 1407.8,725.1 1409.4,727.6 1410.0,730.9 1409.9,734.5 1410.2,737.9 1412.0,740.5 1415.8,741.8 1421.0,742.2 1426.8,742.5 1432.6,743.6 1438.2,745.9 1444.0,748.9 1450.0,751.9 1455.9,754.1 1462.2,755.0 1468.9,755.2 1475.0,755.2 1479.7,755.7 1482.3,756.9 1483.3,758.6 1484.1,760.2 1486.1,761.3 1489.8,761.5 1494.4,761.3 1499.2,761.0 1503.5,761.3 1506.7,762.4 1509.3,763.9 1512.2,765.6 1516.2,767.6 1521.9,769.8 1528.9,772.2 1535.8,774.7 1541.7,777.2 1546.1,779.5 1549.7,781.8 1552.8,784.1 1555.9,786.7 1559.0,789.7 1561.8,793.0 1564.5,796.3 1567.1,799.4 1569.7,802.5 1572.1,805.5 1574.4,808.3 1576.6,810.5 1578.7,811.9 1580.7,812.8 1582.5,813.3 1583.7,813.7 1583.7,1700 569.2,1700" fill="#d62728" fill-opacity="0.3"/>
<clipPath id="c_green"><polygon points="758.0,980.0 1529.0,898.0 1687.7,881.1 1687.7,-50 758.0,-50"/></clipPath>
<polygon clip-path="url(#c_green)" points="604.8,1097.0 607.1,1095.6 610.3,1093.7 614.2,1091.3 618.8,1088.3 624.2,1084.5 630.5,1079.8 637.1,1075.2 643.5,1071.3 649.9,1068.5 656.5,1066.3 662.8,1064.2 668.3,1062.0 672.6,1059.6 676.0,1057.1 679.4,1054.4 683.7,1051.2 689.4,1047.4 695.9,1043.0 702.5,1038.5 708.5,1034.2 713.6,1030.4 718.2,1026.9 722.6,1023.2 727.1,1018.7 731.9,1013.1 736.9,1006.7 741.6,1000.2 745.6,994.0 748.6,988.6 750.8,983.5 752.8,978.3 754.9,972.3 757.3,965.2 759.7,957.4 762.1,949.3 764.2,941.4 766.0,933.9 767.5,926.7 768.9,919.0 770.4,910.4 772.0,900.4 773.7,889.5 775.3,878.2 776.6,867.1 777.6,856.3 778.3,845.6 778.9,834.8 779.7,823.8 780.7,812.3 781.9,800.4 783.1,788.6 784.3,777.4 785.5,766.6 786.7,756.0 787.8,746.1 788.9,737.1 789.9,729.9 790.8,724.1 791.7,718.0 792.5,710.0 793.2,699.2 793.8,686.7 794.5,673.6 795.3,661.0 796.4,649.0 797.7,637.0 799.1,625.4 800.4,614.6 801.7,605.1 803.0,596.6 804.3,588.0 805.6,578.5 806.9,566.8 808.2,553.8 809.5,541.5 810.8,532.0 812.0,526.4 813.2,523.3 814.4,521.4 815.9,519.2 817.6,516.0 819.5,512.8 821.5,510.2 823.7,508.9 826.2,509.4 828.9,511.1 831.5,513.7 834.0,516.6 836.2,519.7 838.2,523.2 840.0,527.2 841.7,532.0 843.2,537.4 844.6,543.5 845.8,550.3 846.9,557.9 847.7,567.3 848.2,578.2 848.7,588.5 849.4,596.5 850.3,600.7 851.3,602.3 852.4,603.7 853.3,606.9 854.0,612.5 854.5,619.3 855.1,627.0 855.9,635.2 857.0,644.4 858.4,654.6 859.8,664.7 861.0,673.9 861.9,681.4 862.6,688.0 863.3,694.5 864.5,702.0 866.1,710.5 867.9,719.6 870.1,729.4 872.5,740.2 875.4,752.5 878.6,766.0 881.9,779.7 884.9,792.8 887.4,805.1 889.8,817.0 892.0,828.4 894.2,839.2 896.4,849.1 898.6,858.4 900.9,867.3 903.4,876.4 906.2,885.9 909.2,895.5 912.4,904.9 915.8,913.5 919.4,921.3 923.2,928.4 927.1,935.1 931.3,941.4 935.7,947.5 940.2,953.3 945.0,958.5 949.9,963.0 955.2,966.6 960.9,969.4 966.5,971.6 971.5,973.2 975.2,974.2 977.9,974.5 981.4,974.3 987.0,973.9 995.7,973.2 1006.4,972.1 1018.0,970.7 1029.6,969.0 1041.1,966.7 1053.0,964.0 1064.9,961.1 1076.0,958.7 1086.4,956.8 1096.3,955.3 1105.7,953.8 1114.7,952.2 1122.7,950.4 1129.8,948.6 1137.2,946.7 1145.7,944.5 1156.5,941.7 1168.8,938.4 1180.6,935.5 1190.2,933.9 1196.6,934.4 1200.8,936.4 1204.3,938.4 1208.2,939.1 1212.8,937.7 1217.6,935.0 1222.1,932.1 1226.3,930.0 1229.8,928.8 1232.8,928.0 1235.7,927.6 1239.2,927.5 1243.3,928.1 1247.7,929.3 1252.4,930.2 1257.2,930.0 1262.3,927.9 1267.7,924.5 1273.0,921.0 1277.9,918.4 1282.0,917.0 1285.6,916.2 1289.2,915.9 1293.3,915.9 1298.2,916.8 1303.6,918.5 1309.1,919.9 1314.0,919.7 1318.0,917.4 1321.5,913.8 1325.1,909.6 1329.4,905.5 1334.9,901.9 1341.2,898.2 1347.3,894.4 1352.6,890.1 1356.6,885.4 1359.9,880.4 1362.7,875.1 1365.5,869.4 1368.3,863.3 1371.0,856.9 1373.5,850.2 1375.8,843.7 1377.9,837.1 1379.9,830.3 1381.7,823.8 1383.6,817.9 1385.5,812.6 1387.5,807.7 1389.4,803.4 1391.3,799.8 1393.2,797.1 1395.0,795.3 1397.0,793.8 1399.1,792.1 1401.4,790.1 1403.9,788.0 1406.6,786.0 1409.4,784.3 1412.5,782.8 1415.9,781.5 1419.3,780.6 1422.3,780.5 1424.9,781.1 1427.4,782.3 1429.5,784.2 1431.3,786.9 1432.6,790.7 1433.5,795.5 1434.3,800.6 1435.2,805.0 1436.4,808.6 1437.7,811.8 1439.0,814.8 1440.3,817.9 1441.5,821.0 1442.6,823.9 1443.7,827.1 1444.8,831.2 1445.9,836.6 1447.0,843.0 1448.2,849.5 1449.5,855.0 1450.9,859.4 1452.5,863.1 1454.2,866.3 1455.9,869.3 1457.5,871.9 1459.1,874.2 1461.0,876.2 1463.8,878.0 1468.0,879.6 1473.1,880.9 1478.4,882.1 1482.9,883.6 1486.0,885.6 1488.3,888.0 1490.6,890.1 1494.0,891.5 1499.0,891.8 1505.0,891.2 1511.1,890.7 1516.2,890.7 1520.0,891.7 1522.9,893.2 1525.7,894.8 1528.9,896.3 1532.8,897.5 1537.0,898.7 1541.1,899.9 1544.8,901.1 1547.9,902.6 1550.6,904.3 1553.2,905.8 1555.9,906.6 1558.7,906.5 1561.5,905.6 1564.3,904.7 1567.1,904.2 1570.0,904.2 1573.0,904.4 1575.9,904.9 1578.2,905.8 1579.7,907.5 1580.6,909.7 1581.5,912.0 1583.0,913.8 1585.3,914.8 1588.1,915.3 1591.1,915.9 1594.1,917.0 1597.2,918.8 1600.3,921.1 1603.6,923.6 1606.8,926.5 1610.0,929.8 1613.2,933.6 1616.4,937.3 1619.5,940.8 1622.5,944.0 1625.4,947.0 1628.1,949.8 1630.6,951.9 1632.8,953.3 1634.8,954.2 1636.5,954.7 1637.7,955.1 1637.7,1700 604.8,1700" fill="#2ca02c" fill-opacity="0.3"/>
<clipPath id="c_orange"><polygon points="792.4,1137.4 1565.7,1054.7 1743.4,1035.7 1743.4,-50 792.4,-50"/></clipPath>
<polygon clip-path="url(#c_orange)" points="640.7,1264.9 645.0,1262.4 651.1,1258.7 657.9,1254.8 663.8,1251.7 668.6,1249.6 672.9,1248.1 677.1,1246.8 681.4,1245.1 685.8,1243.2 690.3,1241.1 694.7,1238.9 698.9,1236.3 702.7,1233.3 706.3,1230.0 710.0,1226.5 714.3,1223.1 719.5,1219.9 725.4,1216.6 731.3,1213.4 736.3,1209.9 740.3,1206.2 743.6,1202.2 746.6,1198.2 749.5,1194.5 752.5,1191.1 755.4,1187.8 758.1,1184.6 760.5,1181.4 762.4,1178.0 763.8,1174.4 765.2,1171.0 767.1,1168.2 769.6,1166.4 772.6,1165.3 775.6,1164.0 778.1,1161.6 780.1,1157.7 781.7,1152.8 783.2,1147.4 784.7,1141.8 786.1,1136.1 787.5,1130.0 788.8,1123.8 790.2,1117.6 791.8,1111.8 793.4,1106.1 795.1,1100.0 796.7,1093.0 798.3,1084.8 799.8,1075.8 801.4,1066.1 802.9,1055.9 804.5,1044.7 806.1,1032.6 807.7,1020.6 809.1,1009.4 810.4,999.3 811.6,989.9 812.7,980.9 813.7,972.3 814.5,964.7 815.2,958.0 816.0,950.7 816.8,941.4 817.8,929.4 819.0,915.5 820.2,900.6 821.4,885.7 822.6,870.3 823.8,854.2 824.9,838.3 826.1,823.8 827.3,811.1 828.4,799.6 829.5,788.6 830.7,777.4 831.9,765.2 833.0,752.6 834.2,740.7 835.4,730.9 836.6,723.7 837.9,718.5 839.1,714.2 840.4,710.0 841.6,705.7 842.8,701.9 844.1,698.2 845.6,694.5 847.4,690.7 849.4,687.0 851.4,683.1 853.3,679.0 854.9,673.7 856.4,667.7 857.9,662.4 859.8,659.7 862.2,660.2 865.1,662.8 867.8,666.9 870.0,671.3 871.4,676.5 872.4,682.7 873.1,689.0 874.0,694.5 875.0,698.4 876.1,701.4 877.2,704.8 878.5,710.0 880.0,717.4 881.6,726.3 883.3,736.1 884.9,746.4 886.5,757.1 888.0,768.4 889.6,780.3 891.1,792.8 892.6,805.8 894.0,819.3 895.5,833.5 897.3,848.5 899.3,865.0 901.5,882.7 903.9,900.4 906.5,916.6 909.4,930.8 912.5,943.7 915.7,956.2 918.9,969.2 922.0,983.3 925.1,997.8 928.2,1012.0 931.3,1024.9 934.4,1036.3 937.5,1046.7 940.6,1056.3 943.7,1065.1 946.7,1073.1 949.7,1080.2 952.7,1086.8 956.0,1093.0 959.7,1099.0 963.5,1104.7 967.6,1109.9 971.5,1114.6 975.3,1118.9 979.1,1122.7 982.9,1125.9 987.0,1128.6 991.2,1130.6 995.6,1132.0 1000.2,1132.8 1005.5,1133.2 1011.3,1132.9 1017.4,1131.9 1024.3,1130.8 1032.2,1130.2 1042.2,1130.4 1053.9,1131.1 1065.0,1131.6 1073.5,1131.5 1078.0,1130.4 1079.9,1128.6 1081.2,1126.6 1083.8,1125.0 1087.9,1124.0 1092.5,1123.4 1097.9,1122.6 1104.4,1121.1 1112.0,1118.8 1120.5,1115.9 1130.0,1112.7 1140.5,1109.5 1153.2,1106.1 1167.6,1102.3 1181.4,1098.9 1192.1,1096.6 1198.0,1095.9 1200.8,1096.3 1203.1,1096.8 1207.6,1096.6 1215.6,1095.0 1225.5,1092.7 1235.5,1090.4 1243.7,1088.9 1249.4,1088.8 1253.7,1089.5 1257.4,1090.3 1261.7,1090.2 1266.6,1088.9 1271.7,1086.8 1276.9,1084.7 1282.3,1083.0 1287.9,1082.2 1293.6,1082.0 1299.5,1081.6 1305.5,1080.4 1311.6,1077.9 1317.9,1074.7 1324.4,1071.2 1331.3,1068.3 1338.9,1066.0 1347.0,1064.0 1355.0,1062.3 1362.3,1060.5 1369.0,1058.9 1375.2,1057.5 1380.8,1055.9 1385.5,1054.1 1388.9,1051.8 1391.1,1049.2 1393.2,1046.5 1395.8,1043.8 1399.4,1041.3 1403.4,1038.8 1407.5,1036.3 1411.3,1033.5 1414.7,1030.7 1418.0,1027.9 1421.1,1024.6 1424.1,1020.6 1426.9,1015.3 1429.5,1009.2 1432.0,1002.9 1434.5,997.4 1437.0,992.9 1439.4,989.0 1442.0,985.4 1444.8,981.9 1448.1,978.2 1451.6,974.6 1455.3,971.3 1458.9,968.8 1462.5,967.1 1466.2,965.9 1469.7,965.4 1472.9,965.3 1475.6,965.7 1478.0,966.6 1480.2,968.0 1482.2,969.9 1484.1,972.4 1485.8,975.6 1487.4,979.1 1489.1,982.7 1490.8,986.5 1492.6,990.6 1494.3,994.8 1496.1,998.9 1497.8,1003.1 1499.5,1007.3 1501.2,1011.5 1503.1,1015.2 1505.4,1018.5 1507.8,1021.4 1510.3,1024.2 1512.3,1026.8 1513.6,1029.2 1514.4,1031.4 1515.3,1033.7 1517.0,1036.1 1519.9,1039.1 1523.5,1042.6 1527.4,1045.6 1530.9,1047.7 1533.9,1048.4 1536.7,1048.2 1539.5,1047.4 1542.5,1046.5 1545.8,1045.0 1549.4,1042.9 1553.0,1041.1 1556.5,1040.7 1560.0,1042.4 1563.6,1045.5 1567.1,1048.9 1570.4,1051.2 1573.5,1052.0 1576.3,1052.0 1579.2,1051.8 1582.0,1052.3 1584.7,1053.7 1587.2,1055.7 1590.0,1057.7 1593.6,1059.3 1598.3,1060.1 1603.9,1060.5 1609.5,1060.9 1614.5,1061.6 1618.6,1062.7 1622.2,1063.9 1625.4,1065.5 1628.4,1067.4 1630.8,1070.0 1632.8,1073.2 1634.8,1076.4 1637.7,1079.0 1641.9,1080.7 1646.9,1081.9 1651.9,1083.1 1656.3,1084.8 1659.6,1087.3 1662.4,1090.1 1665.0,1093.3 1667.9,1096.5 1671.3,1100.0 1674.9,1103.7 1678.4,1107.4 1681.8,1110.4 1685.1,1112.8 1688.5,1114.8 1691.4,1116.3 1693.4,1117.4 1693.4,1700 640.7,1700" fill="#ff7f0e" fill-opacity="0.3"/>
<clipPath id="c_blue"><polygon points="835.3,1309.5 940.0,1300.0 1008.5,1292.6 1435.7,1241.6 1665.6,1216.0 1802.6,1200.7 1802.6,-50 835.3,-50"/></clipPath>
<polygon clip-path="url(#c_blue)" points="679.2,1432.0 681.8,1431.4 685.6,1430.6 690.0,1429.4 694.5,1427.6 699.3,1424.9 704.5,1421.4 709.7,1417.8 714.3,1414.4 718.0,1411.3 721.0,1408.3 724.0,1405.6 727.5,1403.4 731.7,1402.2 736.3,1401.8 740.9,1401.4 745.1,1400.1 748.6,1397.7 751.7,1394.7 754.8,1391.3 758.3,1388.0 762.5,1384.7 767.1,1381.2 771.7,1377.8 775.9,1374.8 779.5,1372.4 782.8,1370.4 785.9,1368.4 789.1,1366.0 792.6,1363.1 796.1,1359.9 799.5,1356.4 802.3,1352.9 804.3,1349.2 805.7,1345.3 807.1,1341.4 808.9,1337.5 811.4,1333.9 814.3,1330.3 817.2,1326.6 819.9,1322.1 822.3,1316.6 824.5,1310.4 826.6,1304.0 828.7,1297.9 830.7,1292.3 832.6,1286.9 834.5,1281.5 836.4,1275.9 838.4,1270.2 840.4,1264.4 842.3,1258.3 844.1,1251.7 845.6,1244.5 847.0,1236.8 848.3,1228.9 849.6,1220.9 851.0,1212.8 852.4,1204.6 853.8,1196.3 855.1,1188.0 856.3,1179.9 857.4,1171.8 858.4,1163.6 859.5,1155.0 860.6,1145.4 861.8,1135.2 862.9,1125.5 863.9,1117.6 864.8,1113.3 865.6,1111.5 866.5,1108.9 867.5,1102.3 868.8,1090.1 870.3,1074.3 871.9,1057.0 873.3,1040.4 874.6,1024.6 875.7,1008.5 876.9,992.9 878.0,978.5 879.1,965.8 880.2,954.3 881.3,943.3 882.5,932.1 883.7,920.0 885.1,907.6 886.3,895.8 887.5,885.7 888.4,878.0 889.1,871.9 889.9,866.6 891.1,860.9 892.7,854.4 894.5,847.8 896.6,841.5 898.8,836.2 901.3,832.1 904.1,828.8 906.9,826.1 909.6,823.8 912.2,821.3 914.7,818.8 917.0,817.7 918.9,819.1 920.0,824.4 920.6,832.5 921.2,841.3 922.0,848.5 923.4,852.5 925.0,854.8 926.7,857.8 928.2,864.0 929.4,874.6 930.4,888.2 931.5,902.8 932.8,916.6 934.4,928.6 936.2,940.0 938.3,952.1 940.6,966.1 943.4,983.7 946.7,1003.9 949.9,1023.7 952.9,1040.4 955.5,1053.1 957.9,1063.2 960.1,1071.9 962.0,1080.0 963.7,1087.1 965.0,1093.0 966.3,1098.8 967.5,1106.0 968.7,1115.0 969.7,1125.0 970.8,1135.5 972.0,1146.0 973.3,1156.7 974.7,1167.7 976.3,1178.4 978.0,1188.0 980.0,1196.2 982.3,1203.4 984.7,1210.0 987.0,1216.5 989.2,1223.0 991.3,1229.3 993.4,1235.2 995.8,1240.7 998.4,1245.6 1001.1,1249.9 1003.9,1254.1 1006.8,1258.3 1009.7,1262.8 1012.6,1267.4 1015.7,1271.8 1019.3,1275.9 1023.5,1279.4 1028.2,1282.5 1033.0,1285.5 1037.4,1288.7 1041.3,1292.6 1044.9,1296.8 1048.2,1300.6 1051.5,1302.9 1053.9,1303.2 1055.8,1302.0 1058.4,1300.3 1063.1,1299.1 1070.9,1298.7 1080.8,1298.5 1091.5,1298.3 1101.8,1297.8 1111.4,1296.8 1121.0,1295.6 1130.6,1294.2 1140.5,1292.6 1151.0,1290.9 1162.0,1289.0 1172.5,1287.0 1181.8,1284.9 1189.5,1282.5 1196.0,1279.8 1201.9,1277.5 1207.6,1275.9 1213.1,1275.8 1218.1,1276.7 1223.0,1277.5 1228.2,1277.1 1233.6,1274.6 1239.2,1270.8 1245.0,1266.9 1251.4,1264.3 1258.5,1263.4 1266.2,1263.5 1274.2,1264.0 1282.3,1264.3 1290.9,1264.4 1299.8,1264.5 1308.4,1264.6 1315.8,1264.3 1321.3,1263.7 1325.7,1262.9 1329.6,1261.8 1333.9,1260.4 1338.5,1258.4 1343.1,1255.9 1348.2,1253.4 1354.5,1251.4 1362.7,1250.2 1372.3,1249.4 1382.0,1248.7 1390.6,1247.5 1397.6,1245.6 1403.8,1243.3 1409.4,1241.0 1414.8,1239.2 1420.2,1238.1 1425.3,1237.3 1429.9,1236.7 1433.4,1235.8 1435.3,1234.6 1435.8,1233.3 1436.4,1231.8 1438.0,1230.0 1441.4,1227.9 1445.7,1225.6 1450.3,1223.2 1454.3,1220.7 1457.6,1218.2 1460.5,1215.6 1463.3,1212.9 1465.9,1210.2 1468.3,1207.3 1470.5,1204.3 1472.8,1201.4 1475.2,1198.6 1477.8,1196.1 1480.6,1193.7 1483.5,1191.5 1486.8,1189.3 1490.5,1187.1 1494.7,1184.8 1498.9,1182.8 1503.1,1181.2 1507.3,1180.0 1511.5,1179.0 1515.6,1178.6 1519.3,1178.9 1522.4,1180.1 1525.1,1182.1 1527.8,1184.5 1530.9,1187.0 1534.5,1189.8 1538.5,1192.9 1542.7,1195.9 1547.2,1198.6 1552.1,1200.9 1557.4,1202.9 1562.8,1204.5 1568.1,1205.6 1573.4,1205.7 1578.8,1205.1 1584.1,1204.4 1589.0,1204.4 1593.4,1205.4 1597.4,1207.1 1601.3,1208.8 1605.2,1210.2 1609.2,1211.2 1613.1,1211.9 1617.1,1212.4 1621.5,1212.5 1626.5,1211.9 1632.0,1210.8 1637.4,1209.7 1642.4,1209.1 1646.8,1209.2 1650.8,1209.6 1654.7,1210.4 1658.6,1211.4 1662.5,1212.9 1666.2,1214.9 1670.2,1216.9 1674.9,1218.3 1680.9,1218.8 1687.8,1218.6 1694.6,1218.6 1700.4,1219.5 1704.6,1221.7 1707.9,1224.6 1710.9,1228.0 1714.3,1231.1 1718.3,1234.1 1722.6,1237.0 1726.8,1240.0 1730.6,1242.7 1733.9,1245.2 1736.8,1247.6 1739.5,1249.8 1742.2,1252.0 1745.1,1254.3 1748.1,1256.6 1750.8,1258.7 1752.6,1260.1 1752.6,1700 679.2,1700" fill="#1f77b4" fill-opacity="0.3"/>
</g>
<g filter="url(#soft)" fill="none" stroke="#101010" stroke-linecap="butt">
<path d="M418.0,132.0 L454.2,758 Q455.6,782 461.2,802 L613.4,1504.8 L1845.5,1365.2" stroke-width="3.05" stroke-linejoin="miter"/>
<path d="M400.8,190.0 L432.8,187.0" stroke-width="3.2"/>
<path d="M407.3,302.2 L439.3,299.2" stroke-width="3.2"/>
<path d="M413.6,411.1 L445.6,408.1" stroke-width="3.2"/>
<path d="M419.8,518.3 L451.8,515.3" stroke-width="3.2"/>
<path d="M425.9,623.9 L457.9,620.9" stroke-width="3.2"/>
<path d="M431.9,726.8 L463.9,723.8" stroke-width="3.2"/>
<path d="M443.0,817.2 L477.0,813.6" stroke-width="3.4"/>
<path d="M458.5,891.6 L492.5,888.0" stroke-width="3.4"/>
<path d="M475.5,967.7 L509.5,964.1" stroke-width="3.4"/>
<path d="M492.0,1045.1 L526.0,1041.5" stroke-width="3.4"/>
<path d="M509.6,1123.7 L543.6,1120.1" stroke-width="3.4"/>
<path d="M527.0,1205.2 L561.0,1201.6" stroke-width="3.4"/>
<path d="M546.0,1286.2 L580.0,1282.6" stroke-width="3.4"/>
<path d="M563.0,1370.2 L597.0,1366.6" stroke-width="3.4"/>
<path d="M581.6,1455.9 L615.6,1452.3" stroke-width="3.4"/>
<path d="M690.9,1487.7 L697.7,1509.7" stroke-width="3.2"/>
<path d="M872.3,1467.2 L879.1,1489.2" stroke-width="3.2"/>
<path d="M1052.9,1446.7 L1059.7,1468.7" stroke-width="3.2"/>
<path d="M1232.9,1426.3 L1239.7,1448.3" stroke-width="3.2"/>
<path d="M1412.2,1406.0 L1419.0,1428.0" stroke-width="3.2"/>
<path d="M1590.9,1385.8 L1597.7,1407.8" stroke-width="3.2"/>
<path d="M1767.4,1365.8 L1774.2,1387.8" stroke-width="3.2"/>
</g>
<g font-family="'DejaVu Sans', 'Liberation Sans', sans-serif" font-size="38.4" fill="#1a1a1a">
<text transform="translate(396.4,195.4) scale(1.12,1)" text-anchor="end">240</text>
<text transform="translate(403.3,305.8) scale(1.12,1)" text-anchor="end">230</text>
<text transform="translate(412.1,413.7) scale(1.12,1)" text-anchor="end">220</text>
<text transform="translate(419.9,521.5) scale(1.12,1)" text-anchor="end">210</text>
<text transform="translate(424.8,626.7) scale(1.12,1)" text-anchor="end">200</text>
<text transform="translate(431.6,729.4) scale(1.12,1)" text-anchor="end">190</text>
<text transform="translate(706.5,1597.2) rotate(-1.5) scale(1.12,1)" text-anchor="middle">0</text>
<text transform="translate(883.9,1576.7) rotate(-1.5) scale(1.12,1)" text-anchor="middle">50</text>
<text transform="translate(1067.0,1556.2) rotate(-1.5) scale(1.12,1)" text-anchor="middle">100</text>
<text transform="translate(1247.0,1535.8) rotate(-1.5) scale(1.12,1)" text-anchor="middle">150</text>
<text transform="translate(1426.3,1515.5) rotate(-1.5) scale(1.12,1)" text-anchor="middle">200</text>
<text transform="translate(1606.0,1495.3) rotate(-1.5) scale(1.12,1)" text-anchor="middle">250</text>
<text transform="translate(1781.5,1475.3) rotate(-1.5) scale(1.12,1)" text-anchor="middle">300</text>
<text transform="translate(1250.2,1600.2) scale(1.12,1)" text-anchor="middle">X</text>
<text transform="translate(277,248.5) rotate(87.4) scale(1.005,1.12)" text-anchor="start" word-spacing="7">Grayscale Value</text>
</g>
<g font-family="'Liberation Serif', 'Times New Roman', serif" font-size="90.6">
<text x="591" y="131.5" fill="#000">C line</text>
<text x="1180" y="354.7" fill="#000">T1 line</text>
<text x="15.5" y="849.7" fill="#9467bd">10 ng/mL</text>
<text x="97.5" y="1008.6" fill="#d62728">8 ng/mL</text>
<text x="132" y="1164.5" fill="#279e27">6 ng/mL</text>
<text x="162.5" y="1347.8" fill="#ff7f0e">4 ng/mL</text>
<text x="207" y="1496.3" fill="#1f77b4">2 ng/mL</text>
</g>
</svg>
</body></html>
